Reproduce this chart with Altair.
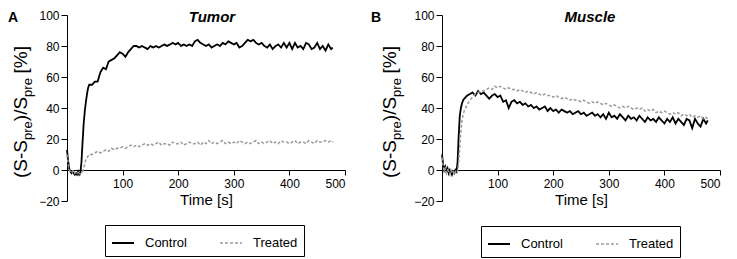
import altair as alt
import pandas as pd

time_s = [0, 2, 4, 6, 8, 10, 12, 14, 16, 18, 20, 22, 24, 26, 28, 30, 32, 34, 36, 38, 40,
          45, 50, 55, 60, 65, 70, 75, 80, 85, 90,
          95, 100, 105, 110, 115, 120, 125, 130, 135, 140,
          145, 150, 155, 160, 165, 170, 175, 180, 185, 190,
          195, 200, 205, 210, 215, 220, 225, 230, 235, 240,
          245, 250, 255, 260, 265, 270, 275, 280, 285, 290,
          295, 300, 305, 310, 315, 320, 325, 330, 335, 340,
          345, 350, 355, 360, 365, 370, 375, 380, 385, 390,
          395, 400, 405, 410, 415, 420, 425, 430, 435, 440,
          445, 450, 455, 460, 465, 470, 475, 478]

tumor_control = [13, 6, 1, -1, -2, -1, -2, -3, -2, -3, -1, -3, -2, 5, 18, 30, 38, 44, 49, 53, 55,
                 55, 57, 57, 63, 66, 65, 70, 71, 72, 74,
                 76, 75, 73, 76, 78, 80, 80, 79, 80, 79,
                 78, 80, 79, 80, 79, 80, 81, 80, 81, 82,
                 81, 82, 80, 81, 80, 81, 80, 83, 84, 82,
                 81, 80, 81, 79, 80, 81, 80, 82, 81, 83,
                 82, 81, 82, 79, 80, 82, 84, 83, 84, 82,
                 81, 82, 80, 79, 81, 78, 80, 81, 79, 82,
                 79, 82, 78, 82, 79, 80, 78, 82, 81, 78,
                 79, 82, 78, 80, 77, 81, 78, 79]

tumor_treated = [10, 4, 0, -1, -2, -1, 0, -2, -1, -2, -2, -1, -3, -2, -1, 1, 4, 7, 8, 9, 10,
                 10, 11, 12, 11, 12, 13, 12, 14, 13, 14,
                 14, 15, 14, 15, 16, 15, 16, 15, 16, 17,
                 16, 17, 16, 17, 18, 16, 17, 17, 16, 18,
                 17, 17, 18, 16, 17, 18, 17, 17, 18, 16,
                 18, 17, 19, 17, 18, 17, 18, 19, 17, 18,
                 17, 18, 17, 19, 18, 17, 18, 17, 18, 19,
                 17, 18, 17, 18, 19, 17, 18, 17, 19, 18,
                 18, 17, 18, 19, 17, 18, 18, 17, 19, 18,
                 17, 19, 18, 18, 19, 18, 19, 18]

muscle_control = [10, 4, 0, 2, -1, 1, -2, 0, -1, -3, -1, -2, 0, -1, 5, 22, 35, 40, 43, 45, 46,
                  48, 49, 50, 48, 51, 49, 50, 48, 46, 48,
                  49, 47, 48, 44, 45, 40, 44, 45, 43, 44,
                  42, 43, 41, 42, 40, 41, 39, 40, 41, 38,
                  40, 38, 39, 37, 39, 38, 37, 38, 36, 37,
                  38, 36, 37, 35, 36, 37, 35, 36, 34, 36,
                  33, 37, 34, 35, 33, 36, 34, 32, 35, 33,
                  34, 32, 35, 33, 31, 34, 32, 33, 31, 34,
                  32, 30, 33, 31, 34, 30, 33, 31, 29, 33,
                  32, 27, 33, 30, 28, 33, 30, 32]

muscle_treated = [8, 3, -1, 1, -2, 0, -1, -3, 0, -2, -1, -3, -1, -2, -1, 5, 15, 25, 32, 36, 38,
                  42, 45, 47, 49, 50, 51, 51, 52, 53, 52,
                  54, 53, 54, 53, 52, 53, 52, 52, 51, 52,
                  51, 50, 51, 50, 49, 50, 49, 48, 49, 48,
                  48, 47, 48, 47, 46, 47, 46, 45, 46, 45,
                  45, 44, 45, 44, 43, 44, 43, 44, 43, 42,
                  43, 42, 41, 42, 41, 40, 41, 40, 41, 40,
                  39, 40, 39, 40, 38, 39, 38, 39, 37, 38,
                  37, 38, 37, 36, 37, 36, 37, 35, 36, 35,
                  36, 34, 35, 34, 35, 33, 34, 33]

series_names = ["Control", "Treated"]
series_colors = ["#000000", "#9a9a9a"]
x_ticks = [100, 200, 300, 400, 500]
y_ticks = [-20, 0, 20, 40, 60, 80, 100]

FONT = "Liberation Sans"


def text_mark(text, x, y, size, weight="normal", style="normal", angle=0, align="left", baseline="alphabetic"):
    kw = dict(text=text, fontSize=size, fontWeight=weight, fontStyle=style,
              align=align, baseline=baseline, font=FONT, color="black")
    if angle:
        kw["angle"] = angle
    return alt.Chart(pd.DataFrame({"k": [0]})).mark_text(**kw).encode(
        x=alt.value(x), y=alt.value(y))


def legend_params(lx, ly):
    return alt.Legend(title=None, orient="none", legendX=lx, legendY=ly,
                      direction="horizontal", strokeColor="black",
                      padding=6, labelFontSize=13, symbolType="stroke",
                      symbolSize=484, symbolStrokeWidth=2, columnPadding=30,
                      labelOffset=10, labelFont=FONT, labelColor="black")


def panel(ctrl, trt, title, title_x, letter, letter_x, ytx, legend_x, legend_y):
    df = pd.DataFrame({
        "t": time_s + time_s,
        "v": ctrl + trt,
        "series": [series_names[0]] * len(ctrl) + [series_names[1]] * len(trt),
    })
    lines = alt.Chart(df).mark_line().encode(
        x=alt.X("t:Q", scale=alt.Scale(domain=[0, 500], nice=False, zero=False),
                axis=alt.Axis(values=x_ticks, title="Time [s]", offset=-31,
                              tickSize=5, labelPadding=3, labelFontSize=12,
                              titleFontSize=15, titleFontWeight="normal", titlePadding=3)),
        y=alt.Y("v:Q", scale=alt.Scale(domain=[-20, 100], nice=False, zero=False),
                axis=alt.Axis(values=y_ticks, title=None, tickSize=6, labelPadding=2,
                              labelFontSize=12)),
        color=alt.Color("series:N", scale=alt.Scale(domain=series_names, range=series_colors),
                        legend=legend_params(legend_x, legend_y)),
        strokeDash=alt.StrokeDash("series:N", scale=alt.Scale(domain=series_names, range=[[1, 0], [3, 2]]),
                                  legend=legend_params(legend_x, legend_y)),
        strokeWidth=alt.StrokeWidth("series:N", scale=alt.Scale(domain=series_names, range=[1.8, 1.5]),
                                    legend=None),
    )
    layers = [lines,
              text_mark(title, title_x, 7, 15, weight="bold", style="italic", align="center"),
              text_mark(letter, letter_x, 7, 14, weight="bold"),
              text_mark("(S-S", ytx, 163, 19, angle=270),
              text_mark("pre", ytx + 5, 125, 13, angle=270),
              text_mark(")/S", ytx, 106.2, 19, angle=270),
              text_mark("pre", ytx + 5, 81.9, 13, angle=270),
              text_mark("[%]", ytx, 58.5, 19, angle=270)]
    return alt.layer(*layers).properties(width=278, height=186)


left = panel(tumor_control, tumor_treated, "Tumor", 145, "A", -59, -40, 38, 210)
right = panel(muscle_control, muscle_treated, "Muscle", 148, "B", -71, -46, 39, 211)

chart = alt.hconcat(left, right, spacing=25).resolve_scale(
    color="independent", strokeDash="independent", strokeWidth="independent"
).resolve_legend(
    color="independent", strokeDash="independent"
).configure(font=FONT, padding={"top": 1, "left": 0, "right": 0, "bottom": 0}).configure_view(
    stroke=None
).configure_axis(
    grid=False, domainColor="black", tickColor="black", labelColor="black",
    titleColor="black", domainWidth=1, tickWidth=1, labelFont=FONT, titleFont=FONT
)

chart.save("out.html", embed_options={"renderer": "svg", "actions": False})
